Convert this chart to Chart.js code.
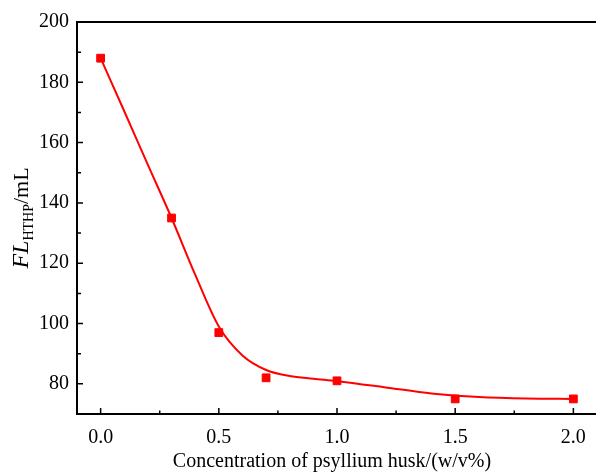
<!DOCTYPE html>
<html>
<head>
<meta charset="utf-8">
<script src="https://cdn.jsdelivr.net/npm/chart.js@4/dist/chart.umd.min.js"></script>
<style>
  html, body { margin: 0; padding: 0; background: #fff; overflow: hidden; }
  #wrap { width: 596px; height: 473px; overflow: hidden; }
</style>
</head>
<body>
<div id="wrap"><canvas id="fl" width="597" height="473"></canvas></div>
<script>
// measured points
const concentration = [0, 0.3, 0.5, 0.7, 1.0, 1.5, 2.0]
const fluidLoss = [188, 135, 97, 82, 81, 75, 75]

// fitted curve
const fitX = [0, 0.1, 0.2, 0.3, 0.4, 0.5, 0.6, 0.7, 0.8, 0.9, 1.0, 1.2, 1.4, 1.6, 1.8, 2.0]
const fitY = [188, 170.4, 152.6, 135, 116.2, 99.0, 89.4, 84.6, 82.6, 81.7, 80.9, 78.9, 76.8, 75.6, 75.1, 75.0]

// axis ticks
const xTicks = [0, 0.5, 1.0, 1.5, 2.0]
const xMinor = [0.25, 0.75, 1.25, 1.75]
const yTicks = [80, 100, 120, 140, 160, 180, 200]
const yMinor = [90, 110, 130, 150, 170, 190]

const serif = '"Liberation Serif", "Times New Roman", serif'

const frame = {
    id: 'frame',
    afterDraw(chart) {
        const { ctx, chartArea: a, scales: { x, y } } = chart
        ctx.save()
        ctx.strokeStyle = '#000'
        ctx.lineWidth = 2
        ctx.beginPath()
        // left, bottom, top (no right side)
        ctx.moveTo(a.left, a.top)
        ctx.lineTo(a.left, a.bottom)
        ctx.lineTo(chart.width, a.bottom)
        ctx.moveTo(a.left - 1, a.top)
        ctx.lineTo(chart.width, a.top)
        ctx.stroke()

        ctx.lineWidth = 1.5
        ctx.beginPath()
        xTicks.forEach(v => {
            const px = x.getPixelForValue(v)
            ctx.moveTo(px, a.bottom)
            ctx.lineTo(px, a.bottom - 6)
        })
        xMinor.forEach(v => {
            const px = x.getPixelForValue(v)
            ctx.moveTo(px, a.bottom)
            ctx.lineTo(px, a.bottom - 3.5)
        })
        yTicks.forEach(v => {
            const py = y.getPixelForValue(v)
            ctx.moveTo(a.left, py)
            ctx.lineTo(a.left + 6, py)
        })
        yMinor.forEach(v => {
            const py = y.getPixelForValue(v)
            ctx.moveTo(a.left, py)
            ctx.lineTo(a.left + 4, py)
        })
        ctx.stroke()

        // x title
        ctx.fillStyle = '#000'
        ctx.textBaseline = 'alphabetic'
        ctx.textAlign = 'center'
        ctx.font = '20px ' + serif
        ctx.fillText('Concentration of psyllium husk/(w/v%)', 332, 467)

        // y title: FL (italic) + HTHP subscript + /mL
        const parts = [
            { t: 'FL', f: 'italic 24px ' + serif, dy: 0 },
            { t: 'HTHP', f: '14px ' + serif, dy: 5 },
            { t: '/mL', f: '22px ' + serif, dy: 0 },
        ]
        let total = 0
        parts.forEach(p => { ctx.font = p.f; p.w = ctx.measureText(p.t).width; total += p.w })
        const cy = (a.top + a.bottom) / 2
        ctx.translate(28, cy)
        ctx.rotate(-Math.PI / 2)
        ctx.textAlign = 'left'
        let cx = -total / 2
        parts.forEach(p => {
            ctx.font = p.f
            ctx.fillText(p.t, cx, p.dy)
            cx += p.w
        })
        ctx.restore()
    },
}

new Chart(document.getElementById('fl'), {
    type: 'scatter',
    data: {
        datasets: [
            {
                label: 'fit',
                data: fitX.map((v, i) => ({ x: v, y: fitY[i] })),
                showLine: true,
                borderColor: '#ff0000',
                borderWidth: 2,
                pointRadius: 0,
                cubicInterpolationMode: 'monotone',
            },
            {
                label: 'FL',
                data: concentration.map((v, i) => ({ x: v, y: fluidLoss[i] })),
                pointStyle: 'rect',
                pointRadius: 5.5,
                borderWidth: 1,
                backgroundColor: '#ff0000',
                borderColor: '#ff0000',
            },
        ],
    },
    options: {
        responsive: false,
        animation: false,
        layout: { autoPadding: false, padding: { top: 22, right: 0, left: 0, bottom: 0 } },
        plugins: {
            legend: { display: false },
            tooltip: { enabled: false },
        },
        scales: {
            x: {
                type: 'linear',
                min: -0.1,
                max: 2.1,
                grid: { display: false, drawTicks: false },
                border: { display: false },
                afterBuildTicks: s => { s.ticks = xTicks.map(v => ({ value: v })) },
                afterFit: s => { s.height = 59; s.paddingLeft = 0; s.paddingRight = 0 },
                ticks: {
                    padding: 12,
                    color: '#000',
                    font: { family: serif, size: 20 },
                    callback: v => v.toFixed(1),
                },
            },
            y: {
                min: 70,
                max: 200,
                grid: { display: false, drawTicks: false },
                border: { display: false },
                afterBuildTicks: s => { s.ticks = yTicks.map(v => ({ value: v })) },
                afterFit: s => { s.width = 77; s.paddingTop = 0; s.paddingBottom = 0 },
                ticks: {
                    padding: 8,
                    color: '#000',
                    font: { family: serif, size: 20 },
                    callback: v => String(v),
                },
            },
        },
    },
    plugins: [frame],
})
</script>
</body>
</html>
